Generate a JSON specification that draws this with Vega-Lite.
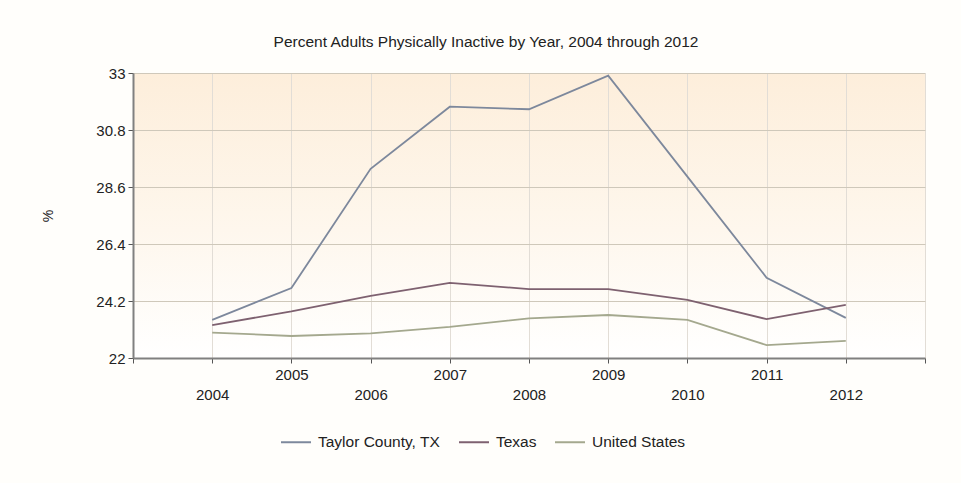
{
  "$schema": "https://vega.github.io/schema/vega-lite/v6.json",
  "autosize": {"type": "none"},
  "width": 792,
  "height": 285,
  "padding": {"left": 133, "top": 73, "right": 36, "bottom": 125},
  "background": "#fffefb",
  "title": {
    "text": "Percent Adults Physically Inactive by Year, 2004 through 2012",
    "font": "Liberation Sans",
    "fontSize": 15.5,
    "fontWeight": "normal",
    "color": "#222222",
    "anchor": "middle",
    "offset": 16,
    "dx": -43
  },
  "config": {
    "view": {
      "stroke": null,
      "fill": {
        "gradient": "linear",
        "x1": 0, "y1": 0, "x2": 0, "y2": 1,
        "stops": [
          {"offset": 0, "color": "#fdeedb"},
          {"offset": 0.55, "color": "#fef7ed"},
          {"offset": 1, "color": "#ffffff"}
        ]
      }
    },
    "font": "Liberation Sans"
  },
  "data": {
    "values": [
      {"year": 2004, "series": "Taylor County, TX", "value": 23.47},
      {"year": 2005, "series": "Taylor County, TX", "value": 24.7},
      {"year": 2006, "series": "Taylor County, TX", "value": 29.3},
      {"year": 2007, "series": "Taylor County, TX", "value": 31.7},
      {"year": 2008, "series": "Taylor County, TX", "value": 31.6},
      {"year": 2009, "series": "Taylor County, TX", "value": 32.9},
      {"year": 2010, "series": "Taylor County, TX", "value": 29.0},
      {"year": 2011, "series": "Taylor County, TX", "value": 25.1},
      {"year": 2012, "series": "Taylor County, TX", "value": 23.55},
      {"year": 2004, "series": "Texas", "value": 23.27},
      {"year": 2005, "series": "Texas", "value": 23.8},
      {"year": 2006, "series": "Texas", "value": 24.4},
      {"year": 2007, "series": "Texas", "value": 24.9},
      {"year": 2008, "series": "Texas", "value": 24.66},
      {"year": 2009, "series": "Texas", "value": 24.66},
      {"year": 2010, "series": "Texas", "value": 24.24},
      {"year": 2011, "series": "Texas", "value": 23.5},
      {"year": 2012, "series": "Texas", "value": 24.05},
      {"year": 2004, "series": "United States", "value": 22.98},
      {"year": 2005, "series": "United States", "value": 22.85},
      {"year": 2006, "series": "United States", "value": 22.95},
      {"year": 2007, "series": "United States", "value": 23.2},
      {"year": 2008, "series": "United States", "value": 23.53},
      {"year": 2009, "series": "United States", "value": 23.66},
      {"year": 2010, "series": "United States", "value": 23.47},
      {"year": 2011, "series": "United States", "value": 22.5},
      {"year": 2012, "series": "United States", "value": 22.66}
    ]
  },
  "mark": {"type": "line", "strokeWidth": 1.8},
  "encoding": {
    "x": {
      "field": "year",
      "type": "quantitative",
      "scale": {"domain": [2003, 2013], "nice": false, "zero": false},
      "axis": {
        "title": null,
        "values": [2003, 2004, 2005, 2006, 2007, 2008, 2009, 2010, 2011, 2012, 2013],
        "labelExpr": "datum.value == 2003 || datum.value == 2013 ? '' : (datum.value % 2 == 0 ? ['', toString(datum.value)] : toString(datum.value))",
        "labelOverlap": false,
        "labelFontSize": 15,
        "labelColor": "#222222",
        "labelPadding": 4,
        "labelLineHeight": 20,
        "labelBaseline": "top",
        "tickSize": 5,
        "tickColor": "#555555",
        "domainColor": "#808080",
        "domainWidth": 2,
        "gridColor": "#e2ddd6",
        "gridOpacity": 1
      }
    },
    "y": {
      "field": "value",
      "type": "quantitative",
      "scale": {"domain": [22, 33], "nice": false, "zero": false},
      "axis": {
        "title": "%",
        "titleFontSize": 14,
        "titleFontWeight": "normal",
        "titleColor": "#222222",
        "titlePadding": 40,
        "values": [22, 24.2, 26.4, 28.6, 30.8, 33],
        "format": ".1~f",
        "labelFontSize": 15,
        "labelColor": "#222222",
        "labelPadding": 3,
        "tickSize": 5,
        "tickColor": "#555555",
        "domainColor": "#808080",
        "domainWidth": 2,
        "gridColor": "#cfc8ba",
        "gridOpacity": 1
      }
    },
    "color": {
      "field": "series",
      "type": "nominal",
      "scale": {
        "domain": ["Taylor County, TX", "Texas", "United States"],
        "range": ["#7d889c", "#7e6170", "#a4a88e"]
      },
      "legend": {
        "title": null,
        "orient": "none",
        "legendX": 147,
        "legendY": 353,
        "direction": "horizontal",
        "symbolType": "stroke",
        "symbolSize": 900,
        "symbolStrokeWidth": 2,
        "labelFontSize": 15.5,
        "labelColor": "#222222",
        "labelOffset": 6,
        "columnPadding": 14
      }
    }
  }
}
